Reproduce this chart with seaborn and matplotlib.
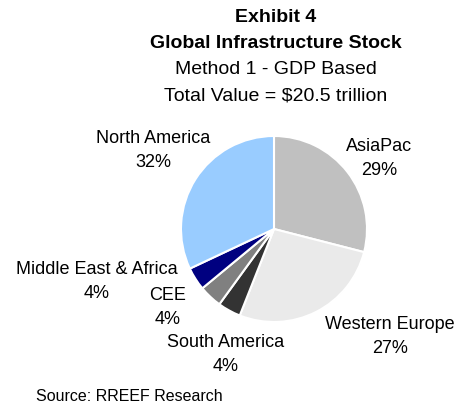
import matplotlib
matplotlib.use("Agg")
import matplotlib.pyplot as plt
import seaborn as sns

regions = ["AsiaPac", "Western Europe", "South America", "CEE", "Middle East & Africa", "North America"]
shares = [29, 27, 4, 4, 4, 32]
colors = ["#C0C0C0", "#EAEAEA", "#333333", "#808080", "#000080", "#99CCFF"]

sns.set_theme(style="white")
plt.rcParams['font.family'] = ['Liberation Sans', 'DejaVu Sans']

W, H = 461, 406
fig = plt.figure(figsize=(W / 100, H / 100), dpi=100)
fig.patch.set_facecolor("white")

cx, cy, r = 274, 230, 93
ax = fig.add_axes([(cx - r) / W, 1 - (cy + r) / H, 2 * r / W, 2 * r / H])
ax.pie(shares, colors=colors, startangle=90, counterclock=False,
       wedgeprops=dict(edgecolor="white", linewidth=1.5))
ax.set_xlim(-1, 1)
ax.set_ylim(-1, 1)
ax.set_aspect("equal")
ax.axis("off")

def txt(x, y, s, **kw):
    fig.text(x / W, 1 - y / H, s, ha="center", va="center", color="black", **kw)

txt(276, 17, "Exhibit 4", fontsize=14, fontweight="bold")
txt(276, 44, "Global Infrastructure Stock", fontsize=14, fontweight="bold")
txt(276, 70, "Method 1 - GDP Based", fontsize=14)
txt(276, 96, "Total Value = $20.5 trillion", fontsize=14)

label_pos = {
    "AsiaPac": (379, 147),
    "Western Europe": (390, 325),
    "South America": (226, 343),
    "CEE": (168, 296),
    "Middle East & Africa": (97, 270),
    "North America": (153, 139),
}
for name, val in zip(regions, shares):
    x, y = label_pos[name]
    txt(x, y, name, fontsize=13)
    txt(x, y + 24, f"{val}%", fontsize=13)

fig.text(36 / W, 1 - 397 / H, "Source: RREEF Research", ha="left", va="center",
         fontsize=11.5, color="black")

fig.savefig("out.png", dpi=100, facecolor="white")
